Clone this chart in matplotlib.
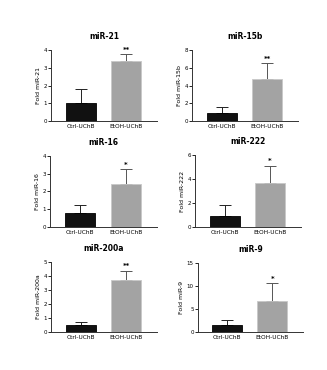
import matplotlib.pyplot as plt

groups = ["Ctrl-UChB", "EtOH-UChB"]
titles = ["miR-21", "miR-15b", "miR-16", "miR-222", "miR-200a", "miR-9"]
means = [[1.0, 3.4], [0.85, 4.75], [0.8, 2.45], [0.9, 3.7], [0.5, 3.7], [1.5, 6.7]]
errs = [[0.8, 0.35], [0.7, 1.75], [0.45, 0.8], [0.9, 1.4], [0.2, 0.65], [1.2, 3.9]]
stars = ["**", "**", "*", "*", "**", "*"]
yticks = [[0, 1, 2, 3, 4], [0, 2, 4, 6, 8], [0, 1, 2, 3, 4],
          [0, 2, 4, 6], [0, 1, 2, 3, 4, 5], [0, 5, 10, 15]]

# panel boxes in pixels: left, top, right, bottom
boxes = [(51, 50, 157, 121), (192, 50, 298, 121),
         (50, 156, 157, 227), (195, 155, 301, 227),
         (51, 262, 157, 332), (198, 263, 303, 332)]

W, H = 327, 370
fig = plt.figure(figsize=(W / 100, H / 100), dpi=100)
fig.patch.set_facecolor("white")

fills = ["#111111", "#a3a3a3"]
edges = ["#000000", "#c8c8c8"]
ecols = ["#222222", "#555555"]

for i in range(6):
    l, t, r, b = boxes[i]
    ax = fig.add_axes([l / W, 1 - b / H, (r - l) / W, (b - t) / H])
    top = yticks[i][-1]
    for j in range(2):
        ax.bar(j, means[i][j], width=0.66, color=fills[j],
               edgecolor=edges[j], linewidth=0.6, zorder=2)
        ax.errorbar(j, means[i][j], yerr=[[0], [errs[i][j]]], fmt="none",
                    ecolor=ecols[j], elinewidth=0.7, capsize=4.5, capthick=0.7, zorder=1)
    ax.text(1, means[i][1] + errs[i][1] + top * 0.025, stars[i],
            ha="center", va="bottom", fontsize=5, fontweight="bold")
    ax.set_xlim(-0.65, 1.68)
    ax.set_ylim(0, top)
    ax.set_yticks(yticks[i])
    ax.set_xticks([0, 1])
    ax.set_xticklabels(groups, fontsize=4.2)
    ax.tick_params(axis="y", labelsize=4, length=2, width=0.6, pad=1)
    ax.tick_params(axis="x", length=0, pad=2)
    ax.set_ylabel("Fold " + titles[i], fontsize=4.5, labelpad=2)
    ax.set_title(titles[i], fontsize=5.5, fontweight="bold", pad=8)
    for s in ["top", "right"]:
        ax.spines[s].set_visible(False)
    for s in ["left", "bottom"]:
        ax.spines[s].set_linewidth(0.7)
        ax.spines[s].set_color("#333333")

plt.savefig("out.png", dpi=100)
